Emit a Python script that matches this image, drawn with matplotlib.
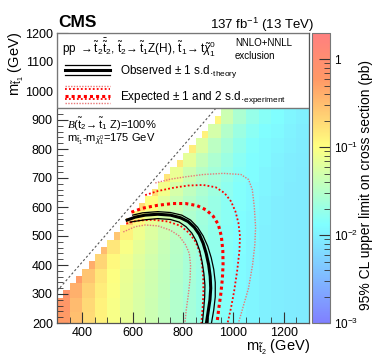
import numpy as np
import matplotlib
matplotlib.use("Agg")
import matplotlib.pyplot as plt
from matplotlib.colors import LinearSegmentedColormap, LogNorm
from matplotlib.lines import Line2D
from matplotlib.patches import Rectangle
from matplotlib.ticker import FixedLocator, FixedFormatter, LogLocator, MultipleLocator, NullFormatter

plt.rcParams["font.family"] = ["Liberation Sans", "DejaVu Sans"]
plt.rcParams["mathtext.fontset"] = "custom"
plt.rcParams["mathtext.rm"] = "Liberation Sans"
plt.rcParams["mathtext.it"] = "Liberation Sans:italic"
plt.rcParams["mathtext.bf"] = "Liberation Sans:bold"
plt.rcParams["mathtext.cal"] = "Liberation Serif:italic"
plt.rcParams["mathtext.fallback"] = "stixsans"

# upper limit on cross section (pb), 50 GeV table: one list per m_t2 column, m_t1 rows from bottom
mt2_centers = np.arange(325, 1300, 50)
mt1_centers = np.arange(212.5, 1000, 50)
limit_columns = [
    [0.58, 0.66, 0.80],
    [0.31, 0.33, 0.40, 0.55],
    [0.19, 0.20, 0.22, 0.28, 0.42],
    [0.13, 0.13, 0.14, 0.16, 0.21, 0.33],
    [0.092, 0.092, 0.096, 0.10, 0.115, 0.155, 0.27],
    [0.070, 0.070, 0.071, 0.074, 0.080, 0.093, 0.13, 0.24],
    [0.056, 0.056, 0.057, 0.059, 0.062, 0.069, 0.081, 0.11, 0.20],
    [0.046, 0.046, 0.047, 0.048, 0.050, 0.054, 0.060, 0.072, 0.10, 0.18],
    [0.037, 0.037, 0.038, 0.039, 0.040, 0.042, 0.046, 0.052, 0.062, 0.085, 0.16],
    [0.030, 0.030, 0.030, 0.031, 0.032, 0.033, 0.035, 0.038, 0.044, 0.053, 0.075, 0.15],
    [0.024, 0.024, 0.024, 0.025, 0.025, 0.026, 0.027, 0.029, 0.032, 0.037, 0.046, 0.068, 0.14],
    [0.020, 0.020, 0.020, 0.020, 0.021, 0.021, 0.022, 0.023, 0.025, 0.028, 0.032, 0.040, 0.060, 0.13],
    [0.017, 0.017, 0.017, 0.017, 0.017, 0.018, 0.018, 0.019, 0.020, 0.022, 0.024, 0.028, 0.035, 0.052, 0.12],
    [0.0145, 0.0145, 0.0145, 0.0145, 0.015, 0.015, 0.015, 0.016, 0.016, 0.017, 0.019, 0.021, 0.025, 0.031, 0.046, 0.11],
    [0.0125, 0.0125, 0.0125, 0.0125, 0.0125, 0.013, 0.013, 0.013, 0.014, 0.014, 0.015, 0.016, 0.018, 0.021, 0.027, 0.040],
    [0.011, 0.011, 0.011, 0.011, 0.011, 0.011, 0.0115, 0.0115, 0.012, 0.012, 0.013, 0.013, 0.014, 0.016, 0.019, 0.024],
    [0.010, 0.010, 0.010, 0.010, 0.010, 0.010, 0.010, 0.0105, 0.0105, 0.011, 0.011, 0.012, 0.012, 0.013, 0.015, 0.018],
    [0.0095, 0.0095, 0.0095, 0.0095, 0.0095, 0.0095, 0.0095, 0.0095, 0.0095, 0.010, 0.010, 0.0105, 0.011, 0.012, 0.013, 0.015],
    [0.009, 0.009, 0.009, 0.009, 0.009, 0.009, 0.009, 0.009, 0.009, 0.009, 0.0093, 0.0095, 0.010, 0.0105, 0.011, 0.012],
    [0.0088, 0.0088, 0.0088, 0.0088, 0.0088, 0.0088, 0.0088, 0.0088, 0.0088, 0.0088, 0.0088, 0.009, 0.0092, 0.0095, 0.010, 0.0105],
]
min_dm = 37.5  # grid points kept when m_t2 - m_t1 >= this
diag_offset = 10

# exclusion contours (m_t2, m_t1) in GeV
obs_mt2 = [578, 610, 650, 700, 750, 790, 820, 845, 865, 880, 892, 902, 908, 910, 907, 900, 893]
obs_mt1 = [555, 565, 572, 575, 572, 563, 550, 530, 505, 475, 440, 400, 360, 320, 280, 240, 200]
obs_up_mt2 = [600, 640, 700, 750, 795, 830, 858, 880, 898, 912, 922, 928, 928, 922, 913]
obs_up_mt1 = [572, 580, 584, 581, 572, 555, 530, 500, 465, 425, 385, 340, 290, 245, 200]
obs_dn_mt2 = [590, 650, 700, 750, 785, 812, 835, 853, 866, 876, 883, 887, 886, 882, 877]
obs_dn_mt1 = [548, 556, 560, 557, 548, 532, 510, 482, 450, 410, 370, 330, 290, 245, 200]
exp_mt2 = [595, 640, 700, 760, 810, 855, 892, 920, 940, 952, 958, 959, 956, 950, 942, 935]
exp_mt1 = [582, 596, 606, 612, 612, 605, 590, 568, 540, 500, 450, 400, 350, 300, 250, 200]
exp_up_mt2 = [650, 700, 760, 820, 880, 930, 965, 990, 1008, 1020, 1026, 1024, 1015, 1003, 990, 977]
exp_up_mt1 = [641, 655, 666, 674, 676, 668, 648, 620, 585, 545, 500, 450, 380, 310, 250, 200]
exp_dn_mt2 = [575, 620, 680, 740, 790, 825, 850, 866, 875, 880, 881, 878, 873]
exp_dn_mt1 = [543, 553, 556, 550, 535, 510, 480, 445, 405, 360, 310, 255, 200]
exp_up2_mt2 = [690, 750, 810, 880, 960, 1030, 1060, 1075, 1083, 1088, 1085, 1076, 1060, 1040, 1020]
exp_up2_mt1 = [683, 696, 704, 712, 716, 712, 695, 660, 600, 530, 470, 400, 320, 260, 200]
exp_dn2_mt2 = [563, 610, 650, 700, 750, 785, 810, 825, 830, 828, 820, 812, 808]
exp_dn2_mt1 = [514, 532, 538, 535, 520, 500, 470, 440, 400, 350, 290, 240, 200]

# CMS SUSY palette
stops = [0.00, 0.34, 0.61, 0.84, 1.00]
reds = [0.50, 0.50, 1.00, 1.00, 1.00]
greens = [0.50, 1.00, 1.00, 0.60, 0.50]
blues = [1.00, 1.00, 0.50, 0.40, 0.50]
cmap = LinearSegmentedColormap.from_list("susy", list(zip(stops, zip(reds, greens, blues))), N=512)

table = np.full((len(mt1_centers), len(mt2_centers)), np.nan)
for i, col in enumerate(limit_columns):
    table[:len(col), i] = col
fine = np.repeat(np.repeat(table, 2, axis=0), 2, axis=1)
mt2_fine = np.repeat(mt2_centers, 2) + np.tile([-12.5, 12.5], len(mt2_centers))
mt1_fine = np.repeat(mt1_centers, 2) + np.tile([-12.5, 12.5], len(mt1_centers))
X, Y = np.meshgrid(mt2_fine, mt1_fine)
fine = np.ma.masked_where((X - Y < min_dm) | np.isnan(fine), fine)
mt2_edges = np.append(mt2_fine - 12.5, mt2_fine[-1] + 12.5)
mt1_edges = np.append(mt1_fine - 12.5, mt1_fine[-1] + 12.5)

fig = plt.figure(figsize=(3.74, 3.63), dpi=100)
ax = fig.add_axes([57 / 374, 40 / 363, 252 / 374, 290 / 363])
mesh = ax.pcolormesh(mt2_edges, mt1_edges, fine, cmap=cmap,
                     norm=LogNorm(vmin=1e-3, vmax=2), shading="flat", zorder=1)

diag = np.array([300, 1300])
ax.plot(diag, diag + diag_offset, color="#555555", lw=0.8, ls=(0, (2, 2)), zorder=2)

ax.plot(exp_dn2_mt2, exp_dn2_mt1, color="#e87878", lw=1.0, ls=(0, (1, 1)), zorder=3)
ax.plot(exp_up2_mt2, exp_up2_mt1, color="#e87878", lw=1.0, ls=(0, (1, 1)), zorder=3)
ax.plot(exp_dn_mt2, exp_dn_mt1, color="#ff0000", lw=1.3, ls=(0, (1, 1.2)), zorder=3)
ax.plot(exp_up_mt2, exp_up_mt1, color="#ff0000", lw=1.3, ls=(0, (1, 1.2)), zorder=3)
ax.plot(exp_mt2, exp_mt1, color="#ff0000", lw=2.2, ls=(0, (1, 1)), zorder=3)
ax.plot(obs_up_mt2, obs_up_mt1, color="black", lw=0.9, zorder=4)
ax.plot(obs_dn_mt2, obs_dn_mt1, color="black", lw=0.9, zorder=4)
ax.plot(obs_mt2, obs_mt1, color="black", lw=2.2, zorder=4)

ax.set_xlim(300, 1300)
ax.set_ylim(200, 1200)
ax.set_xticks([400, 600, 800, 1000, 1200])
ax.set_yticks(np.arange(200, 1201, 100))
ax.xaxis.set_minor_locator(MultipleLocator(50))
ax.yaxis.set_minor_locator(MultipleLocator(20))
ax.tick_params(which="both", direction="in", labelsize=9, color="#333333")
ax.tick_params(which="major", length=8, pad=3)
ax.tick_params(which="minor", length=4)
for s in ax.spines.values():
    s.set_color("#555555")
    s.set_linewidth(0.9)

# legend box
ax.add_patch(Rectangle((0, 0.741), 1, 0.259, transform=ax.transAxes, facecolor="white",
                       edgecolor="#777777", lw=1.0, zorder=6))
ax.text(0.02, 0.948, r"pp $\rightarrow\tilde{\mathrm{t}}_2\bar{\tilde{\mathrm{t}}}_2$, "
        r"$\tilde{\mathrm{t}}_2\!\rightarrow\tilde{\mathrm{t}}_1$Z(H), "
        r"$\tilde{\mathrm{t}}_1\!\rightarrow\mathrm{t}\tilde{\chi}^0_1$",
        transform=ax.transAxes, fontsize=8.5, va="center", zorder=7)
ax.text(0.706, 0.966, "NNLO+NNLL", transform=ax.transAxes, fontsize=7, va="center", zorder=7)
ax.text(0.706, 0.921, "exclusion", transform=ax.transAxes, fontsize=7, va="center", zorder=7)
lx = [0.032, 0.21]
for y, lw in [(0.891, 0.9), (0.871, 2.2), (0.855, 0.9)]:
    ax.add_line(Line2D(lx, [y, y], transform=ax.transAxes, color="black", lw=lw, zorder=7))
ax.text(0.25, 0.866, r"Observed $\pm$ 1 s.d.$_{\mathrm{theory}}$", transform=ax.transAxes,
        fontsize=8.5, va="center", zorder=7)
for y, c, lw, ls in [(0.817, "#e87878", 1.0, (0, (1, 1))), (0.806, "#ff0000", 1.3, (0, (1, 1.2))),
                     (0.784, "#ff0000", 2.2, (0, (1, 1))), (0.771, "#ff0000", 1.3, (0, (1, 1.2))),
                     (0.760, "#e87878", 1.0, (0, (1, 1)))]:
    ax.add_line(Line2D(lx, [y, y], transform=ax.transAxes, color=c, lw=lw, ls=ls, zorder=7))
ax.text(0.25, 0.776, r"Expected $\pm$ 1 and 2 s.d.$_{\mathrm{experiment}}$", transform=ax.transAxes,
        fontsize=8.5, va="center", zorder=7)

ax.text(0.04, 0.686, r"$\mathcal{B}$($\tilde{\mathrm{t}}_2\!\rightarrow\tilde{\mathrm{t}}_1$ Z)=100%",
        transform=ax.transAxes, fontsize=8, va="center", zorder=5)
ax.text(0.04, 0.634, r"m$_{\tilde{\mathrm{t}}_1}$-m$_{\tilde{\chi}^0_1}$=175 GeV",
        transform=ax.transAxes, fontsize=8, va="center", zorder=5)

# colorbar
cax = fig.add_axes([312 / 374, 40 / 363, 18 / 374, 290 / 363])
cbar = fig.colorbar(mesh, cax=cax)
cbar.outline.set_edgecolor("#777777")
cax.yaxis.set_ticks_position("right")
cax.yaxis.set_major_locator(FixedLocator([1e-3, 1e-2, 1e-1, 1]))
cax.yaxis.set_major_formatter(FixedFormatter([r"$10^{-3}$", r"$10^{-2}$", r"$10^{-1}$", "1"]))
cax.yaxis.set_minor_locator(LogLocator(base=10, subs=np.arange(2, 10)))
cax.yaxis.set_minor_formatter(NullFormatter())
cax.tick_params(which="both", direction="in", labelsize=8.5, color="#333333", pad=3)
cax.tick_params(which="major", length=8)
cax.tick_params(which="minor", length=4)

fig.text(0.978, 0.49, "95% CL upper limit on cross section (pb)", rotation=90,
         fontsize=10, ha="center", va="center")
fig.text(0.045, 0.912, r"m$_{\tilde{\mathrm{t}}_1}$ (GeV)", rotation=90, fontsize=10.5,
         ha="center", va="top")
fig.text(0.829, 1 - 351 / 363, r"m$_{\tilde{\mathrm{t}}_2}$ (GeV)", fontsize=10.5, ha="right",
         va="baseline")
fig.text(58 / 374, 1 - 27 / 363, "CMS", fontsize=12.5, weight="bold", va="baseline")
fig.text(314 / 374, 1 - 29 / 363, r"137 fb$^{-1}$ (13 TeV)", fontsize=9.5, ha="right", va="baseline")

fig.savefig("out.png", dpi=100)
